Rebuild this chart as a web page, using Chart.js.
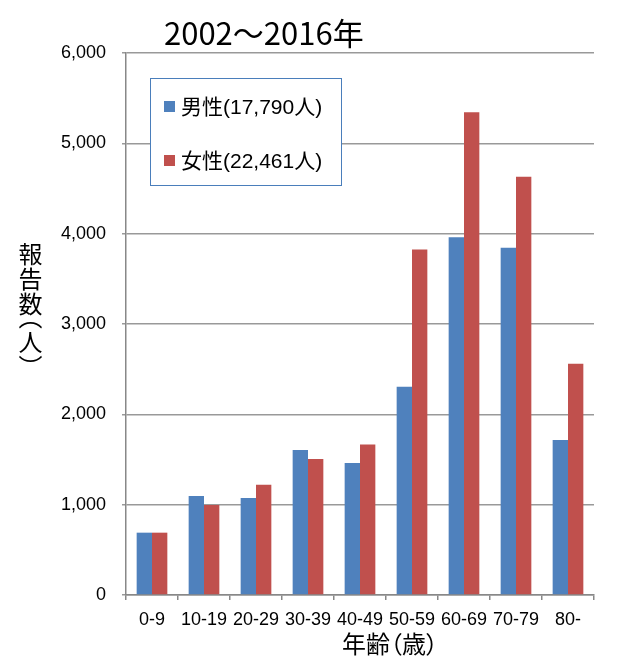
<!DOCTYPE html>
<html>
<head>
<meta charset="utf-8">
<script src="https://cdn.jsdelivr.net/npm/chart.js@4/dist/chart.umd.min.js"></script>
<style>
  body { margin: 0; background: #fff; }
  #wrap { position: relative; width: 630px; height: 662px; }
  #title { position: absolute; left: 164px; top: 10px; font: 31px 'Noto Sans CJK JP', sans-serif; color: #000; line-height: 44px; white-space: nowrap; }
  #ytitle { position: absolute; left: 17px; top: 242px; writing-mode: vertical-rl; font: 24px 'Noto Sans CJK JP', sans-serif; color: #000; font-feature-settings: "vhal" 1; letter-spacing: 1px; line-height: 26px; }
  #xtitle { position: absolute; left: 290px; width: 200px; top: 627px; text-align: center; font: 24px 'Noto Sans CJK JP', sans-serif; color: #000; font-feature-settings: "palt" 1; line-height: 32px; }
  #legend { position: absolute; left: 150px; top: 78px; width: 190px; height: 106px; border: 1.5px solid #4a7ebb; background: #fff;
            font: 21px 'Liberation Sans', 'Noto Sans CJK JP', sans-serif; color: #000; }
  #legend div { position: absolute; left: 13px; white-space: nowrap; line-height: 24px; }
  #legend span { display: inline-block; width: 11px; height: 11px; margin-right: 6px; vertical-align: 2px; }
</style>
</head>
<body>
<div id="wrap">
  <canvas id="mycanvas" width="630" height="662"></canvas>
  <div id="title">2002～2016年</div>
  <div id="ytitle">報告数（人）</div>
  <div id="xtitle">年齢（歳）</div>
  <div id="legend"></div>
</div>
<script>
var ages = ["0-9", "10-19", "20-29", "30-39", "40-49", "50-59", "60-69", "70-79", "80-"];
var male = [690, 1095, 1075, 1605, 1460, 2305, 3960, 3845, 1715];
var female = [690, 995, 1220, 1505, 1665, 3825, 5345, 4630, 2560];
var seriesNames = ["男性(17,790人)", "女性(22,461人)"];
var colors = ["#4f81bd", "#c0504d"];

var font = "'Liberation Sans', 'Noto Sans CJK JP', sans-serif";

var chartdata = {
	labels: ages,
	datasets: [
		{ label: seriesNames[0], backgroundColor: colors[0], data: male },
		{ label: seriesNames[1], backgroundColor: colors[1], data: female }
	]
};

var ctx = document.getElementById("mycanvas");
var chart = new Chart(ctx, {
	type: 'bar',
	data: chartdata,
	options: {
		responsive: false,
		animation: false,
		layout: { padding: { top: 53, right: 36, bottom: 27, left: 56 } },
		datasets: { bar: { categoryPercentage: 0.59, barPercentage: 1.0 } },
		plugins: {
			legend: { display: false },
			tooltip: { enabled: false }
		},
		scales: {
			x: {
				afterFit: function(s) { s.height = 40; },
				grid: { drawOnChartArea: false, drawTicks: true, tickLength: 5, color: "#888", lineWidth: 1.5 },
				border: { color: "#888", width: 1.5 },
				ticks: { color: "#000", font: { family: font, size: 18 }, padding: 9,
					maxRotation: 0, minRotation: 0, autoSkip: false }
			},
			y: {
				min: 0, max: 6000,
				afterFit: function(s) { s.width = 70; },
				ticks: { stepSize: 1000, color: "#000", font: { family: font, size: 18 }, padding: 16,
					callback: function(v) { return v.toLocaleString("en-US"); } },
				grid: { color: "#999", lineWidth: 1.5, tickLength: 4 },
				border: { color: "#888", width: 1.5 }
			}
		}
	}
});

// legend box built from the datasets
var lg = document.getElementById("legend");
chartdata.datasets.forEach(function(ds, i) {
	var d = document.createElement("div");
	d.style.top = (i === 0 ? 16 : 70) + "px";
	d.innerHTML = '<span style="background:' + ds.backgroundColor + '"></span>' + ds.label;
	lg.appendChild(d);
});
</script>
</body>
</html>
